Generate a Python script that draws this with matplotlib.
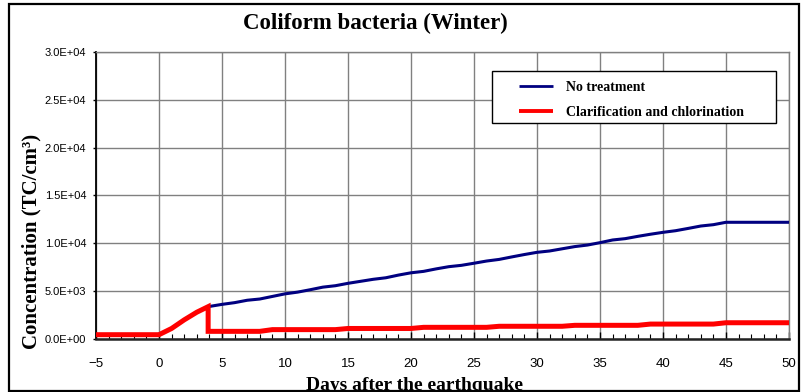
import matplotlib
matplotlib.use("Agg")
import matplotlib.pyplot as plt
from matplotlib.patches import Rectangle
from matplotlib.lines import Line2D
from matplotlib.ticker import MultipleLocator, FuncFormatter

# Days after the earthquake and coliform concentrations (TC/cm3)
days_untreated = [3.9, 5, 6, 7, 8, 9, 10, 11, 12, 13, 14, 15, 16, 17, 18, 19, 20,
                  21, 22, 23, 24, 25, 26, 27, 28, 29, 30, 31, 32, 33, 34, 35, 36,
                  37, 38, 39, 40, 41, 42, 43, 44, 45, 50]
conc_untreated = [3380, 3620, 3800, 4050, 4180, 4450, 4720, 4900, 5150, 5420, 5570,
                  5820, 6030, 6240, 6400, 6680, 6920, 7070, 7330, 7560, 7700, 7920,
                  8150, 8320, 8580, 8830, 9060, 9200, 9430, 9660, 9820, 10070, 10350,
                  10490, 10730, 10950, 11150, 11320, 11560, 11810, 11950, 12200, 12200]

days_treated = [-5, 0, 1, 2, 3, 3.9, 3.9, 8, 9, 14, 15, 20, 21, 26, 27, 32, 33,
                38, 39, 44, 45, 50]
conc_treated = [450, 450, 1100, 2000, 2800, 3380, 800, 800, 980, 980, 1100, 1100,
                1220, 1220, 1330, 1330, 1430, 1430, 1560, 1560, 1700, 1700]

series_labels = ["No treatment", "Clarification and chlorination"]
series_colors = ["#000080", "#ff0000"]

title_text = "Coliform bacteria (Winter)"
xlabel_text = "Days after the earthquake"
ylabel_text = "Concentration (TC/cm³)"

W, H = 802, 392
fig = plt.figure(figsize=(W / 100, H / 100), dpi=100)
fig.patch.set_facecolor("white")

ax_l, ax_r, ax_t, ax_b = 96, 789, 52, 339
ax = fig.add_axes([ax_l / W, 1 - ax_b / H, (ax_r - ax_l) / W, (ax_b - ax_t) / H])

serif = "Liberation Serif"
sans = "Liberation Sans"

ax.plot(days_untreated, conc_untreated, color=series_colors[0], lw=2.2,
        solid_joinstyle="round", solid_capstyle="butt", zorder=3)
ax.plot(days_treated, conc_treated, color=series_colors[1], lw=3.6,
        solid_joinstyle="miter", solid_capstyle="butt", zorder=4)

ax.set_xlim(-5, 50)
ax.set_ylim(0, 30000)
ax.xaxis.set_major_locator(MultipleLocator(5))
ax.xaxis.set_minor_locator(MultipleLocator(1))
ax.yaxis.set_major_locator(MultipleLocator(5000))
ax.yaxis.set_major_formatter(FuncFormatter(
    lambda v, p: ("%.1E" % v) if v else "0.0E+00"))

ax.grid(True, which="major", color="#808080", lw=1.0, zorder=1)
ax.set_axisbelow(True)

ax.tick_params(axis="x", which="major", direction="in", length=5, width=1.0,
               color="black", pad=13.5, labelsize=9.5)
ax.tick_params(axis="x", which="minor", direction="in", length=3.5, width=0.8,
               color="black")
ax.tick_params(axis="y", which="major", direction="out", length=2.5, width=1.0,
               color="black", pad=4.5, labelsize=8)
for lab in ax.get_xticklabels() + ax.get_yticklabels():
    lab.set_fontfamily(sans)

for side in ("top", "right"):
    ax.spines[side].set_color("#808080")
    ax.spines[side].set_linewidth(1.0)
ax.spines["left"].set_color("black")
ax.spines["left"].set_linewidth(1.3)
ax.spines["bottom"].set_color("#222222")
ax.spines["bottom"].set_linewidth(1.8)

# Legend box drawn in axes coordinates
def ax_xy(px, py):
    return ((px - ax_l) / (ax_r - ax_l), (ax_b - py) / (ax_b - ax_t))

x0, y0 = ax_xy(492, 123)
x1, y1 = ax_xy(776, 71)
ax.add_patch(Rectangle((x0, y0), x1 - x0, y1 - y0, transform=ax.transAxes,
                       facecolor="white", edgecolor="black", lw=1.0, zorder=5))
for i, (lab, col, lw) in enumerate(zip(series_labels, series_colors, [2.0, 2.8])):
    py = 86 + i * 24.5
    lx0, ly = ax_xy(519, py)
    lx1, _ = ax_xy(553, py)
    ax.add_line(Line2D([lx0, lx1], [ly, ly], transform=ax.transAxes, color=col,
                       lw=lw, zorder=6, solid_capstyle="butt"))
    tx, _ = ax_xy(566, py)
    ax.text(tx, ly, lab, transform=ax.transAxes, ha="left", va="center_baseline",
            fontfamily=serif, fontweight="bold", fontsize=10, zorder=6)

fig.text(375 / W, 1 - 23 / H, title_text, ha="center", va="center",
         fontfamily=serif, fontweight="bold", fontsize=16.5)
fig.text(31 / W, 1 - 241 / H, ylabel_text, ha="center", va="center", rotation=90,
         fontfamily=serif, fontweight="bold", fontsize=15)
fig.text(415 / W, 1 - 390 / H, xlabel_text, ha="center", va="baseline",
         fontfamily=serif, fontweight="bold", fontsize=14)

# Outer frame around the whole chart
fig.add_artist(Rectangle((8.5 / W, 1 - 390.5 / H), 790.5 / W, 387 / H,
                         transform=fig.transFigure, fill=False,
                         edgecolor="black", lw=1.6, zorder=10))

fig.savefig("out.png", dpi=100)
